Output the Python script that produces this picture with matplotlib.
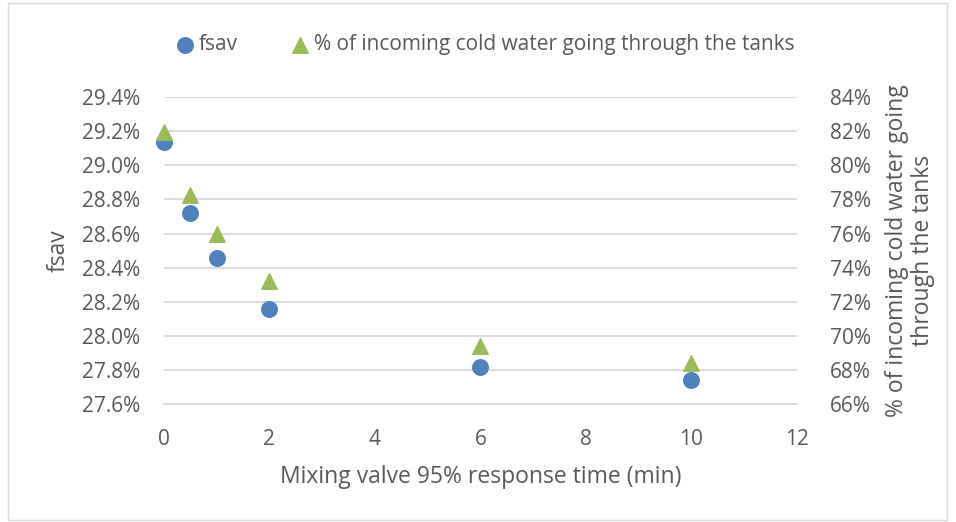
import matplotlib.pyplot as plt
from matplotlib.ticker import FuncFormatter
from matplotlib.patches import Rectangle

plt.rcParams['font.family'] = ['Open Sans', 'DejaVu Sans']

response_time = [0, 0.5, 1, 2, 6, 10]
fsav = [29.135, 28.72, 28.455, 28.16, 27.815, 27.74]
cold_water_pct = [81.95, 78.24, 75.95, 73.2, 69.4, 68.4]

text_col = '#595959'
grid_col = '#D9D9D9'

fig = plt.figure(figsize=(9.56, 5.22), dpi=100)
ax = fig.add_axes([0.1715, 0.226, 0.662, 0.588])
ax2 = ax.twinx()

ax.set_ylim(27.6, 29.4)
ax.set_yticks([27.6 + 0.2 * i for i in range(10)])
ax.set_xlim(0, 12)
ax.set_xticks(range(0, 13, 2))
ax2.set_ylim(66, 84)
ax2.set_yticks(range(66, 85, 2))

ax.yaxis.set_major_formatter(FuncFormatter(lambda v, p: f'{v:.1f}%'))
ax2.yaxis.set_major_formatter(FuncFormatter(lambda v, p: f'{v:.0f}%'))

ax.grid(axis='y', color=grid_col, linewidth=1.3)
ax.set_axisbelow(True)

h1 = ax.scatter(response_time, fsav, s=125, color='#4F81BD', marker='o',
                label='fsav', zorder=3, clip_on=False)
h2 = ax2.scatter(response_time, cold_water_pct, s=125, color='#9BBB59', marker='^',
                 label='% of incoming cold water going through the tanks', zorder=3, clip_on=False)

for a in (ax, ax2):
    for s in a.spines.values():
        s.set_visible(False)
    a.tick_params(length=0, labelsize=15, colors=text_col)
ax.tick_params(axis='y', pad=17)
ax2.tick_params(axis='y', pad=24)
ax.tick_params(axis='x', pad=18)
ax.spines['bottom'].set_visible(True)
ax.spines['bottom'].set_color(grid_col)
ax.spines['bottom'].set_linewidth(1.3)

ax.set_ylabel('fsav', fontsize=16.5, color=text_col, labelpad=8)
ax.set_xlabel('Mixing valve 95% response time (min)', fontsize=16.5, color=text_col, labelpad=11)
ax2.set_ylabel('% of incoming cold water going\nthrough the tanks', fontsize=16.5,
               color=text_col, labelpad=10, linespacing=1.1)

fig.legend(handles=[h1, h2], loc='center', bbox_to_anchor=(0.508, 0.914), ncol=2,
           frameon=False, fontsize=15, labelcolor=text_col, handlelength=0.8,
           handletextpad=0.25, columnspacing=2.6, markerscale=1.0)

fig.patches.append(Rectangle((0.008, 0.004), 0.983, 0.99, transform=fig.transFigure,
                             fill=False, edgecolor='#D9D9D9', linewidth=1))

fig.savefig('out.png', dpi=100)
